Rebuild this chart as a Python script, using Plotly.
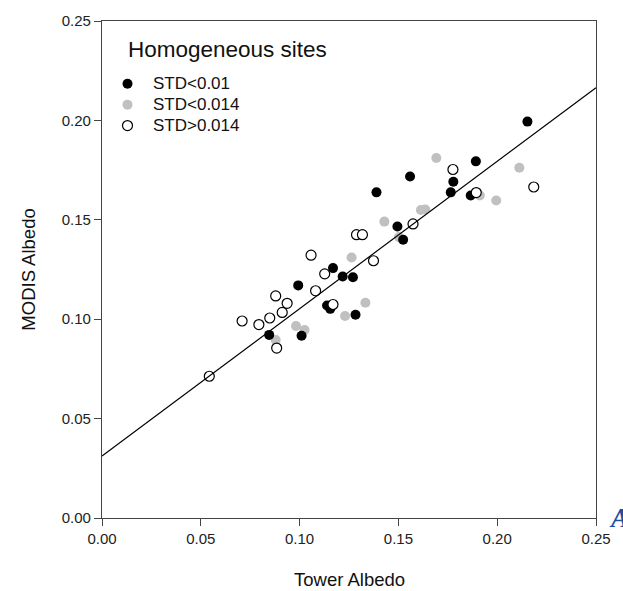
import numpy as np
import plotly.graph_objects as go

# ---- data ----
black_x = [0.0846, 0.1010, 0.0993, 0.1139, 0.1155, 0.1169, 0.1218, 0.1270, 0.1283,
           0.1389, 0.1495, 0.1524, 0.1559, 0.1765, 0.1778, 0.1866, 0.1892, 0.2153]
black_y = [0.0921, 0.0917, 0.1170, 0.1069, 0.1052, 0.1257, 0.1215, 0.1211, 0.1022,
           0.1638, 0.1466, 0.1400, 0.1718, 0.1638, 0.1691, 0.1622, 0.1794, 0.1994]

gray_x = [0.0879, 0.0982, 0.1025, 0.1230, 0.1263, 0.1333, 0.1429, 0.1503, 0.1614,
          0.1636, 0.1692, 0.1912, 0.1995, 0.2112]
gray_y = [0.0895, 0.0966, 0.0946, 0.1016, 0.1310, 0.1083, 0.1491, 0.1413, 0.1549,
          0.1552, 0.1811, 0.1622, 0.1597, 0.1762]

open_x = [0.0543, 0.0709, 0.0794, 0.0849, 0.0884, 0.0879, 0.0912, 0.0937, 0.1058,
          0.1081, 0.1127, 0.1169, 0.1288, 0.1318, 0.1374, 0.1574, 0.1776, 0.1894, 0.2185]
open_y = [0.0713, 0.0991, 0.0973, 0.1006, 0.0855, 0.1117, 0.1034, 0.1080, 0.1322,
          0.1143, 0.1228, 0.1074, 0.1425, 0.1425, 0.1294, 0.1479, 0.1753, 0.1637, 0.1665]

fit_intercept = 0.0312
fit_slope = 0.741
fit_xrange = [0.0, 0.25]

series_names = ["STD<0.01", "STD<0.014", "STD>0.014"]
tick_vals = [0.00, 0.05, 0.10, 0.15, 0.20, 0.25]
tick_text = ["0.00", "0.05", "0.10", "0.15", "0.20", "0.25"]

FONT = "Liberation Sans, Arial, sans-serif"


def legend_label(s):
    # larger visible text while keeping the compact row spacing of the reference
    return '<span style="font-size:17px">' + s.replace("<", "&lt;").replace(">", "&gt;") + "</span>"


fig = go.Figure()

fig.add_trace(go.Scatter(
    x=gray_x, y=gray_y, mode="markers", name=legend_label(series_names[1]), legendrank=2,
    marker=dict(symbol="circle", size=10, color="#c0c0c0", line=dict(width=0)),
))
fig.add_trace(go.Scatter(
    x=black_x, y=black_y, mode="markers", name=legend_label(series_names[0]), legendrank=1,
    marker=dict(symbol="circle", size=10, color="black", line=dict(width=0)),
))
fig.add_trace(go.Scatter(
    x=open_x, y=open_y, mode="markers", name=legend_label(series_names[2]), legendrank=3,
    marker=dict(symbol="circle", size=10, color="white", line=dict(width=1.2, color="black")),
))

fx = np.array(fit_xrange)
fig.add_trace(go.Scatter(
    x=fx, y=fit_intercept + fit_slope * fx, mode="lines", showlegend=False,
    line=dict(color="black", width=1.2), hoverinfo="skip",
))

axis_common = dict(
    range=[0, 0.25], tickvals=tick_vals, ticktext=tick_text,
    ticks="outside", ticklen=7, tickwidth=1.2, tickcolor="#444",
    showline=True, linecolor="#444", linewidth=1.3, mirror=True,
    showgrid=False, zeroline=False,
    tickfont=dict(family=FONT, size=15, color="#222"),
)

fig.update_layout(
    width=623, height=591, autosize=False,
    margin=dict(l=102, r=17, t=14, b=73, pad=0),
    paper_bgcolor="white", plot_bgcolor="white",
    xaxis=dict(**axis_common),
    yaxis=dict(**axis_common),
    showlegend=True,
    legend=dict(
        x=0.0, y=0.905, xanchor="left", yanchor="top",
        bgcolor="rgba(0,0,0,0)", borderwidth=0,
        font=dict(family=FONT, size=13.8, color="#111"),
        itemwidth=41, tracegroupgap=0,
    ),
    annotations=[
        dict(text="Homogeneous sites", xref="paper", yref="paper",
             x=(126.7 - 102.3) / 503.7, y=(517.8 - 43) / 503.5,
             xanchor="left", yanchor="middle", showarrow=False,
             font=dict(family=FONT, size=22.5, color="#111")),
        dict(text="Tower Albedo", xref="paper", yref="paper",
             x=0.5, y=(517.8 - 580) / 503.5, xanchor="center", yanchor="middle",
             showarrow=False, font=dict(family=FONT, size=18.5, color="#111")),
        dict(text="MODIS Albedo", xref="paper", yref="paper",
             x=(27 - 102.3) / 503.7, y=0.5, xanchor="center", yanchor="middle",
             textangle=-90, showarrow=False,
             font=dict(family=FONT, size=18.5, color="#111")),
        dict(text="<b><i>A</i></b>", xref="paper", yref="paper",
             x=(617 - 102.3) / 503.7, y=(517.8 - 535) / 503.5,
             xanchor="left", yanchor="bottom", showarrow=False,
             font=dict(family="Liberation Serif, Times New Roman, serif", size=27, color="#1f4fa3")),
    ],
)

fig.write_html("out.html")
